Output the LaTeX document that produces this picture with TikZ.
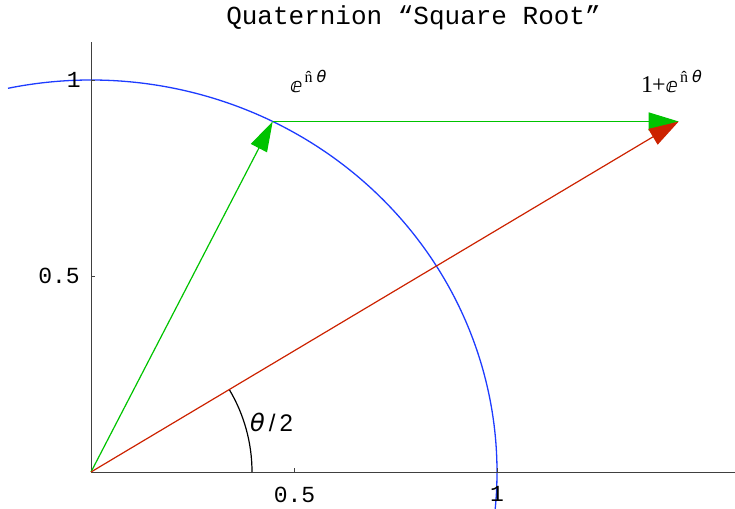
\documentclass[tikz,border=0pt]{standalone}
\usepackage{fontspec}
\newfontfamily\monofam{Liberation Mono}
\newfontfamily\dvfam{DejaVu Sans}
\newfontfamily\serfam{Liberation Serif}
\newfontfamily\sansfam{Liberation Sans}
\usetikzlibrary{arrows.meta,calc}
\definecolor{cblue}{RGB}{30,60,255}
\definecolor{cgreen}{RGB}{0,195,0}
\definecolor{cred}{RGB}{204,34,0}
\begin{document}
\begin{tikzpicture}[x=1pt,y=1pt,
  axisline/.style={draw=black!75,line width=0.8pt},
  tickline/.style={draw=black!75,line width=0.8pt},
  ticklabel/.style={font=\monofam\fontsize{23}{23}\selectfont,inner sep=0pt},
  vec/.style={line width=1.2pt,-{Triangle[length=30pt,width=18pt]}},
  lab/.style={inner sep=0pt,anchor=base west},
  ]
\useasboundingbox (0,0) rectangle (735,508);
\coordinate (O) at (91,36);
\coordinate (P) at (272.7,386.5);
\coordinate (Q) at (678.7,386.5);
\coordinate (Ytop) at (91,466);
\coordinate (Xend) at (735,36);
% unit circle (clipped)
\begin{scope}
\clip (0,0) rectangle (735,508);
\draw[cblue,line width=1.3pt] (O) ++(101.8:406pt and 392pt)
  arc[start angle=101.8,end angle=-7,x radius=406pt,y radius=392pt];
\end{scope}
% axes
\draw[axisline] (O) -- (Ytop);
\draw[axisline] (O) -- (Xend);
\draw[tickline] (91,232) -- ++(4,0);
\draw[tickline] (91,428) -- ++(4,0);
\draw[tickline] (294.5,36) -- ++(0,4);
\draw[tickline] (497,36) -- ++(0,4);
\node[ticklabel] (x05) at (294.5,13.5) {0.5};
\node[ticklabel] (x1) at (497,14.5) {1};
\node[ticklabel,anchor=east] (y05) at (80,232) {0.5};
\node[ticklabel,anchor=east] (y1) at (81,428) {1};
% angle arc
\draw[black,line width=1.2pt] (O) ++(161pt,0) arc[start angle=0,end angle=30.81,radius=161pt];
% vectors
\draw[vec,cgreen] (O) -- (P);
\draw[vec,cgreen] (P) -- (Q);
\draw[vec,cred] (O) -- (Q);
% labels
\node[font=\monofam\fontsize{26}{26}\selectfont,anchor=base,inner sep=0pt] (title) at (413.5,483) {Quaternion “Square Root”};
\node[lab] (elab) at (290,415) {{\dvfam\fontsize{20}{20}\selectfont ⅇ}\raisebox{10pt}{\fontsize{16}{16}\selectfont\hspace{2pt}{\serfam\^{n}}\hspace{4pt}{\dvfam\itshape θ}}};
\node[lab] (qlab) at (641,415) {{\serfam\fontsize{24}{24}\selectfont 1\kern-1pt+}{\dvfam\fontsize{20}{20}\selectfont ⅇ}\raisebox{10pt}{\fontsize{16}{16}\selectfont\hspace{2pt}{\serfam\^{n}}\hspace{4pt}{\dvfam\itshape θ}}};
\node[lab,font=\fontsize{24}{24}\selectfont] (half) at (250,76) {{\dvfam\itshape θ}\hspace{4pt}{\sansfam /}\hspace{4pt}{\sansfam 2}};
\end{tikzpicture}
\end{document}
